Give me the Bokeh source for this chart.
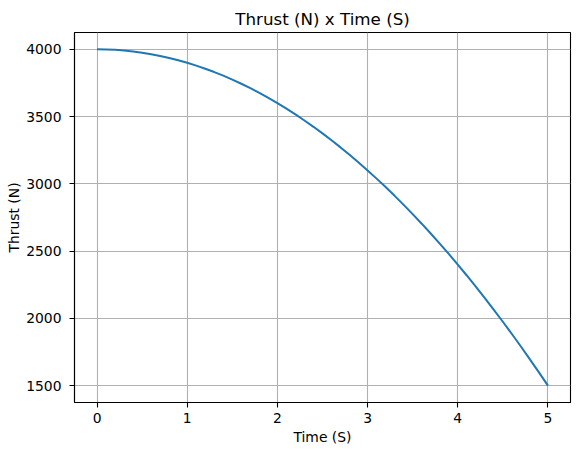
from bokeh.plotting import figure
from bokeh.models import FixedTicker, Range1d
from bokeh.embed import file_html
from bokeh.resources import INLINE

time_s = [0.0, 0.1, 0.2, 0.3, 0.4, 0.5, 0.6, 0.7, 0.8, 0.9,
          1.0, 1.1, 1.2, 1.3, 1.4, 1.5, 1.6, 1.7, 1.8, 1.9,
          2.0, 2.1, 2.2, 2.3, 2.4, 2.5, 2.6, 2.7, 2.8, 2.9,
          3.0, 3.1, 3.2, 3.3, 3.4, 3.5, 3.6, 3.7, 3.8, 3.9,
          4.0, 4.1, 4.2, 4.3, 4.4, 4.5, 4.6, 4.7, 4.8, 4.9, 5.0]
thrust_n = [4000, 3999, 3996, 3991, 3984, 3975, 3964, 3951, 3936, 3919,
            3900, 3879, 3856, 3831, 3804, 3775, 3744, 3711, 3676, 3639,
            3600, 3559, 3516, 3471, 3424, 3375, 3324, 3271, 3216, 3159,
            3100, 3039, 2976, 2911, 2844, 2775, 2704, 2631, 2556, 2479,
            2400, 2319, 2236, 2151, 2064, 1975, 1884, 1791, 1696, 1599, 1500]
x_ticks = [0, 1, 2, 3, 4, 5]
y_ticks = [1500, 2000, 2500, 3000, 3500, 4000]

FONT = "DejaVu Sans"

p = figure(width=572, height=447, output_backend="svg", toolbar_location=None,
           x_range=Range1d(-0.25, 5.25), y_range=Range1d(1375, 4125),
           title="Thrust (N) x Time (S)",
           min_border_left=74, min_border_right=2, min_border_top=32, min_border_bottom=45)

p.line(time_s, thrust_n, line_color="#1f77b4", line_width=2)

p.title.align = "center"
p.title.text_font = FONT
p.title.text_font_size = "16.7px"
p.title.text_font_style = "normal"
p.title.text_color = "black"
p.title.standoff = 7

p.outline_line_color = "black"
p.outline_line_width = 1.1
p.outline_line_alpha = 1
p.background_fill_color = "white"
p.border_fill_color = "white"

for ax, ticks, lab in ((p.xaxis[0], x_ticks, "Time (S)"), (p.yaxis[0], y_ticks, "Thrust (N)")):
    ax.ticker = FixedTicker(ticks=ticks)
    ax.axis_label = lab
    ax.axis_label_text_font = FONT
    ax.axis_label_text_font_size = "13.9px"
    ax.axis_label_text_font_style = "normal"
    ax.axis_label_text_color = "black"
    ax.major_label_text_font = FONT
    ax.major_label_text_font_size = "13.9px"
    ax.major_label_text_color = "black"
    ax.major_tick_in = 0
    ax.major_tick_out = 5
    ax.minor_tick_in = 0
    ax.minor_tick_out = 0
    ax.major_tick_line_color = "black"
    ax.major_tick_line_width = 1.1
    ax.axis_line_color = "black"
    ax.axis_line_width = 1.1

p.xaxis.major_label_standoff = 5
p.yaxis.major_label_standoff = 8
p.xaxis.axis_label_standoff = 3
p.yaxis.axis_label_standoff = 1

p.xgrid.ticker = FixedTicker(ticks=x_ticks)
p.ygrid.ticker = FixedTicker(ticks=y_ticks)
p.grid.grid_line_color = "#b0b0b0"
p.grid.grid_line_width = 1.1

open("out.html", "w").write(file_html(p, INLINE))
